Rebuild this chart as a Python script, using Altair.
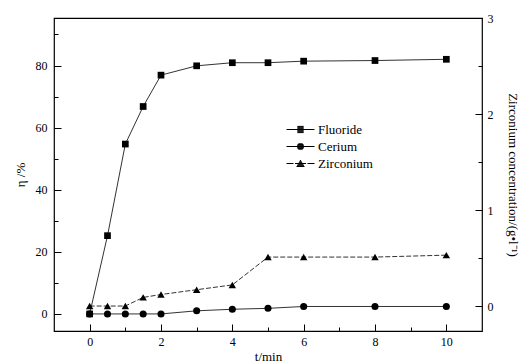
import math
import altair as alt
import pandas as pd

# ---- data ----
t = [0, 0.5, 1, 1.5, 2, 3, 4, 5, 6, 8, 10]
fluoride = [0, 25.2, 54.7, 66.8, 76.9, 79.9, 80.9, 80.9, 81.4, 81.6, 82.0]
cerium = [0, 0, 0, 0, 0, 1.0, 1.5, 1.8, 2.4, 2.4, 2.4]
zirconium = [0, 0, 0, 0.09, 0.12, 0.17, 0.22, 0.51, 0.51, 0.51, 0.53]
series = ["Fluoride", "Cerium", "Zirconium"]

x_major_ticks = [0, 2, 4, 6, 8, 10]
x_minor_ticks = [1, 3, 5, 7, 9]
yl_major_ticks = [0, 20, 40, 60, 80]
yl_minor_ticks = [10, 30, 50, 70, 90]
yr_major_ticks = [0, 1, 2, 3]
yr_minor_ticks = [0.5, 1.5, 2.5]

df = pd.DataFrame({"t": t, "Fluoride": fluoride, "Cerium": cerium, "Zirconium": zirconium})
legend_df = pd.DataFrame({"s": series})

FONT = "Liberation Serif"
LC = "#333333"
xdom = [-1, 11]
ldom = [-5.5, 95.3]
rdom = [-0.26, 3.0]

common = dict(labelFont=FONT, labelFontSize=12, labelColor="black",
              titleFont=FONT, titleFontSize=13, titleFontWeight="normal",
              titleColor="black", domain=False, grid=False, tickColor="black",
              tickWidth=1, zindex=2)

x_major = alt.Axis(values=x_major_ticks, tickSize=7, offset=-7, labelPadding=5,
                   title="t/min", titleY=36, titleBaseline="alphabetic",
                   format="d", orient="bottom", **common)
x_minor = alt.Axis(values=x_minor_ticks, tickSize=4, offset=-4, labels=False,
                   title=None, orient="bottom", **common)
yl_major = alt.Axis(values=yl_major_ticks, tickSize=7, offset=-7, labelPadding=7,
                    title="η /%", titlePadding=8, format="d", orient="left", **common)
yl_minor = alt.Axis(values=yl_minor_ticks, tickSize=4, offset=-4, labels=False,
                    title=None, orient="left", **common)
yr_major = alt.Axis(values=yr_major_ticks, tickSize=7, offset=-7, labelPadding=5,
                    title="Zirconium concentration/(g•l⁻¹)", titlePadding=12,
                    titleAngle=90, format="d", orient="right", **common)
yr_minor = alt.Axis(values=yr_minor_ticks, tickSize=4, offset=-4, labels=False,
                    title=None, orient="right", **common)


def X(axis):
    return alt.X("t:Q", scale=alt.Scale(domain=xdom, nice=False, zero=False), axis=axis)


def YL(field, axis):
    return alt.Y(f"{field}:Q", scale=alt.Scale(domain=ldom, nice=False, zero=False), axis=axis)


def YR(field, axis):
    return alt.Y(f"{field}:Q", scale=alt.Scale(domain=rdom, nice=False, zero=False), axis=axis)


base = alt.Chart(df)

fl_line = base.mark_line(color=LC, strokeWidth=1).encode(x=X(x_major), y=YL("Fluoride", yl_major))
fl_pts = base.mark_point(shape="square", filled=True, color="black", size=45, opacity=1).encode(
    x=X(None), y=YL("Fluoride", None))
ce_line = base.mark_line(color=LC, strokeWidth=1).encode(x=X(x_minor), y=YL("Cerium", yl_minor))
ce_pts = base.mark_point(shape="circle", filled=True, color="black", size=50, opacity=1).encode(
    x=X(None), y=YL("Cerium", None))
zr_line = base.mark_line(color=LC, strokeWidth=1, strokeDash=[5, 2]).encode(
    x=X(None), y=YR("Zirconium", yr_major))
zr_pts = base.mark_point(shape="triangle-up", filled=True, color="black", size=55, opacity=1).encode(
    x=X(None), y=YR("Zirconium", yr_minor))


# legend glyphs: a line with a (hatch-filled, stroke only) marker in the middle
def hatch(y0, y1, halfwidth, step=0.15):
    segs = []
    n = int(round((y1 - y0) / step))
    for i in range(n + 1):
        y = y0 + i * (y1 - y0) / n
        w = halfwidth(y)
        if w > 0.02:
            segs.append(f"M{-w:.3f},{y:.3f}H{w:.3f}")
    return "".join(segs)


sq = hatch(-0.62, 0.62, lambda y: 0.62)
ci = hatch(-0.7, 0.7, lambda y: math.sqrt(max(0.0, 0.7 ** 2 - y ** 2)))
tr = hatch(-0.75, 0.6, lambda y: 0.8 * (y + 0.75) / 1.35)
paths = [
    "M-2.8,0H2.8" + sq,
    "M-2.8,0H2.8" + ci,
    "M-2.8,0H-1.4M-1.1,0H1.1M1.4,0H2.8" + tr,
]

legend_layer = alt.Chart(legend_df).mark_point(color="black", size=100, strokeWidth=1).encode(
    shape=alt.Shape("s:N", scale=alt.Scale(domain=series, range=paths),
                    legend=alt.Legend(title=None, orient="none", legendX=240, legendY=105,
                                      symbolSize=100, symbolStrokeWidth=1,
                                      symbolStrokeColor="black", symbolOpacity=1,
                                      labelFont=FONT, labelFontSize=13,
                                      labelColor="black", labelOffset=11, rowPadding=3,
                                      padding=0))
).transform_filter("false")

chart = alt.layer(fl_line, fl_pts, ce_line, ce_pts, zr_line, zr_pts, legend_layer).resolve_scale(
    x="independent", y="independent"
).properties(
    width=428, height=313,
    autosize=alt.AutoSizeParams(type="none"),
    padding={"left": 46, "top": 10, "right": 38, "bottom": 32},
    background="white",
).configure_view(stroke="black", strokeWidth=1.2).configure_legend(
    labelFont=FONT, labelFontSize=13)

chart.save("out.html", embed_options={"renderer": "svg", "actions": False})
